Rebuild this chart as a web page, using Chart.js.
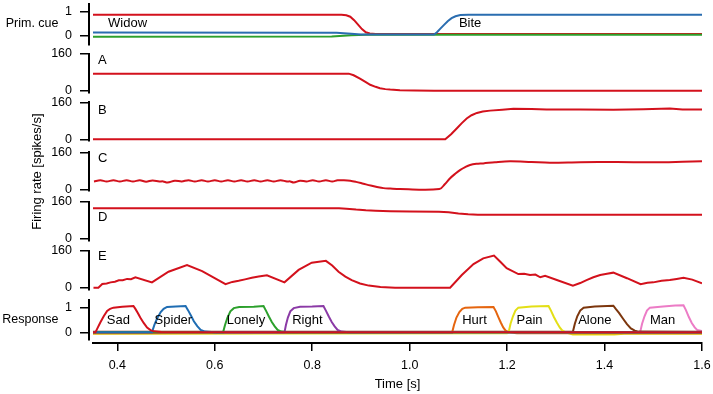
<!DOCTYPE html>
<html>
<head>
<meta charset="utf-8">
<script src="https://cdn.jsdelivr.net/npm/chart.js@4.4.1/dist/chart.umd.min.js"></script>
<style>
  body { margin: 0; background: #fff; }
  #wrap { position: relative; width: 713px; height: 394px; background: #fff; }
  #wrap canvas { position: absolute; left: 0; top: 0; }
</style>
</head>
<body>
<div id="wrap"></div>
<script>
// ---- data (time in s) ----
const xTicks = [0.4, 0.6, 0.8, 1.0, 1.2, 1.4, 1.6];
const rateTicks = [0, 160];
const unitTicks = [0, 1];

const cueWords = ['Widow', 'Bite'];
const cueWidow = [[0.35, 0.86], [0.86, 0.86], [0.87, 0.84], [0.878, 0.78], [0.886, 0.64], [0.894, 0.46], [0.902, 0.28], [0.91, 0.15], [0.918, 0.1], [0.93, 0.08], [1.6, 0.08]];
const cueBite = [[0.35, 0.14], [0.85, 0.13], [0.88, 0.09], [0.9, 0.06], [1.05, 0.06], [1.056, 0.15], [1.062, 0.28], [1.07, 0.44], [1.078, 0.6], [1.086, 0.72], [1.094, 0.8], [1.104, 0.85], [1.12, 0.86], [1.6, 0.86]];
const cueOther = [[0.35, -0.03], [0.84, -0.02], [0.88, 0.03], [0.91, 0.05], [1.6, 0.05]];

const panelLetters = ['A', 'B', 'C', 'D', 'E'];
const rateA = [[0.35, 75], [0.875, 75], [0.885, 68], [0.898, 53], [0.91, 38], [0.919, 27], [0.93, 18], [0.939, 12], [0.95, 8], [0.96, 6], [0.98, 3], [1.01, 2], [1.05, 1], [1.6, 1]];
const rateB = [[0.35, 0], [1.073, 0], [1.085, 22], [1.097, 48], [1.107, 70], [1.117, 90], [1.127, 104], [1.138, 114], [1.15, 120], [1.165, 124], [1.19, 128], [1.213, 132], [1.25, 131], [1.281, 129], [1.35, 129], [1.418, 128], [1.48, 130], [1.534, 133], [1.56, 129], [1.6, 129]];
const rateC = [[0.352, 34], [0.365, 39], [0.378, 34], [0.392, 39], [0.405, 34], [0.419, 39], [0.432, 34], [0.446, 39], [0.459, 33], [0.472, 38], [0.486, 34], [0.494, 34], [0.503, 29], [0.518, 37], [0.532, 34], [0.546, 39], [0.559, 34], [0.573, 39], [0.586, 34], [0.6, 39], [0.613, 34], [0.627, 39], [0.64, 34], [0.654, 39], [0.667, 34], [0.681, 39], [0.694, 34], [0.708, 39], [0.721, 34], [0.735, 39], [0.748, 34], [0.755, 34], [0.762, 29], [0.775, 37], [0.788, 34], [0.801, 39], [0.814, 34], [0.828, 39], [0.841, 34], [0.852, 39], [0.865, 39], [0.878, 37], [0.89, 32], [0.905, 24], [0.92, 16], [0.933, 10], [0.946, 5], [0.96, 3], [0.98, 1], [1.061, 1], [1.072, 22], [1.083, 48], [1.094, 68], [1.104, 84], [1.114, 96], [1.124, 105], [1.137, 110], [1.151, 112], [1.175, 117], [1.206, 121], [1.25, 118], [1.288, 115], [1.35, 117], [1.425, 118], [1.5, 117], [1.56, 119], [1.6, 121]];
const rateD = [[0.35, 132], [0.855, 132], [0.87, 130], [0.89, 126], [0.91, 123], [0.93, 121], [0.96, 119], [1.0, 118], [1.06, 117], [1.08, 114], [1.1, 109], [1.12, 106], [1.14, 104], [1.6, 104]];
const rateE = [[0.351, 0], [0.361, 0], [0.369, 16], [0.378, 18], [0.386, 23], [0.395, 26], [0.403, 32], [0.411, 32], [0.42, 38], [0.428, 37], [0.437, 45], [0.471, 23], [0.505, 69], [0.543, 98], [0.574, 72], [0.622, 15], [0.636, 25], [0.649, 30], [0.662, 36], [0.676, 43], [0.69, 48], [0.707, 54], [0.743, 23], [0.772, 77], [0.799, 108], [0.828, 116], [0.841, 96], [0.854, 69], [0.868, 48], [0.881, 33], [0.898, 18], [0.916, 9], [0.94, 3], [0.97, 0], [1.083, 0], [1.107, 55], [1.131, 102], [1.151, 127], [1.173, 139], [1.186, 112], [1.199, 84], [1.223, 59], [1.235, 60], [1.247, 55], [1.258, 57], [1.268, 45], [1.278, 51], [1.302, 33], [1.335, 9], [1.35, 20], [1.363, 33], [1.377, 45], [1.391, 55], [1.405, 60], [1.418, 65], [1.446, 41], [1.474, 15], [1.488, 21], [1.5, 23], [1.517, 30], [1.534, 33], [1.548, 38], [1.562, 43], [1.58, 35], [1.6, 19]];

const responseWords = ['Sad', 'Spider', 'Lonely', 'Right', 'Hurt', 'Pain', 'Alone', 'Man'];
const respSad = [[0.35, 0], [0.355, 0], [0.36, 0.2], [0.365, 0.4], [0.372, 0.65], [0.379, 0.87], [0.385, 0.95], [0.392, 1.0], [0.41, 1.04], [0.433, 1.07], [0.437, 0.95], [0.442, 0.78], [0.447, 0.6], [0.454, 0.38], [0.461, 0.19], [0.468, 0.09], [0.475, 0.04], [0.49, 0.01], [1.6, 0]];
const respSpider = [[0.35, 0], [0.471, 0], [0.476, 0.3], [0.482, 0.58], [0.489, 0.82], [0.495, 0.95], [0.502, 1.03], [0.52, 1.05], [0.54, 1.07], [0.545, 0.9], [0.551, 0.68], [0.557, 0.45], [0.564, 0.25], [0.571, 0.1], [0.58, 0.03], [0.6, 0], [1.6, 0]];
const respLonely = [[0.35, 0], [0.617, 0], [0.621, 0.3], [0.626, 0.6], [0.632, 0.85], [0.639, 0.98], [0.65, 1.03], [0.68, 1.04], [0.7, 1.07], [0.705, 0.88], [0.711, 0.64], [0.717, 0.42], [0.723, 0.24], [0.729, 0.1], [0.736, 0.03], [0.75, 0], [1.6, 0]];
const respRight = [[0.35, 0], [0.743, 0], [0.746, 0.3], [0.75, 0.6], [0.755, 0.85], [0.762, 0.98], [0.775, 1.04], [0.8, 1.05], [0.823, 1.07], [0.828, 0.88], [0.834, 0.64], [0.84, 0.42], [0.846, 0.24], [0.852, 0.1], [0.86, 0.03], [0.875, 0], [1.6, 0]];
const respHurt = [[0.35, -0.04], [1.087, -0.02], [1.091, 0.3], [1.096, 0.6], [1.102, 0.82], [1.108, 0.95], [1.114, 1.0], [1.14, 1.02], [1.172, 1.03], [1.177, 0.85], [1.182, 0.62], [1.187, 0.4], [1.192, 0.2], [1.197, 0.07], [1.203, 0], [1.22, -0.04], [1.6, -0.04]];
const respPain = [[0.35, -0.06], [1.2, -0.04], [1.203, 0], [1.207, 0.35], [1.212, 0.65], [1.217, 0.88], [1.223, 1.0], [1.25, 1.05], [1.285, 1.07], [1.29, 0.88], [1.296, 0.62], [1.302, 0.4], [1.308, 0.2], [1.313, 0.08], [1.32, 0], [1.335, -0.09], [1.42, -0.09], [1.44, -0.06], [1.6, -0.06]];
const respAlone = [[0.35, 0.02], [1.335, 0.02], [1.339, 0.35], [1.344, 0.65], [1.35, 0.88], [1.357, 1.0], [1.38, 1.05], [1.418, 1.08], [1.423, 0.95], [1.43, 0.78], [1.438, 0.55], [1.446, 0.33], [1.454, 0.16], [1.462, 0.07], [1.47, 0.03], [1.6, 0.02]];
const respMan = [[0.35, 0], [1.473, 0], [1.477, 0.35], [1.482, 0.65], [1.487, 0.88], [1.493, 1.0], [1.52, 1.05], [1.545, 1.09], [1.562, 1.1], [1.567, 0.9], [1.573, 0.62], [1.579, 0.38], [1.585, 0.2], [1.59, 0.1], [1.6, 0.05]];

// ---- layout / styles ----
const W = 713, H = 394;
const FONT = '"Liberation Sans", Arial, sans-serif';
const RED = '#d3111c';
const respColors = ['#d3111c', '#1f6db3', '#2ca02c', '#8b3aa6', '#e5650f', '#e3df16', '#7c360d', '#ec7cc6'];
const plotLeft = 89, plotRight = 702, axisStart = 93;
const tStart = 0.35, tEnd = 1.6;
const tLeft = tStart - (axisStart - plotLeft) * (tEnd - tStart) / (plotRight - axisStart);
const rateTops = [54, 102.3, 152.3, 201.7, 250.7];
const rateHeight = 38.6;
const letterY = [131, 127, 134, 92, 134];
const wordX = [0.402, 0.515, 0.664, 0.79, 1.133, 1.246, 1.38, 1.519];

const wrap = document.getElementById('wrap');

const textPlugin = {
  id: 'panelText',
  afterDatasetsDraw(chart, args, opts) {
    const ctx = chart.ctx;
    const xs = chart.scales.x, ys = chart.scales.y;
    ctx.save();
    ctx.fillStyle = '#000';
    ctx.textBaseline = 'middle';
    ctx.font = '13px ' + FONT;
    (opts.items || []).forEach(it => {
      ctx.textAlign = it.align || 'left';
      ctx.fillText(it.text, xs.getPixelForValue(it.x), ys.getPixelForValue(it.y));
    });
    if (opts.side) {
      ctx.font = '12.5px ' + FONT;
      ctx.textAlign = 'right';
      ctx.fillText(opts.side, 58.5, ys.getPixelForValue(0.5));
    }
    ctx.restore();
  }
};

function toXY(points) {
  return points.map(p => ({ x: p[0], y: p[1] }));
}

function newCanvas() {
  const canvas = document.createElement('canvas');
  canvas.width = W;
  canvas.height = H;
  wrap.appendChild(canvas);
  return canvas.getContext('2d');
}

function makePanel(p) {
  return new Chart(newCanvas(), {
    type: 'line',
    data: {
      datasets: p.series.map(s => ({
        data: toXY(s.points),
        borderColor: s.color,
        borderWidth: 2,
        tension: s.tension || 0,
        pointRadius: 0,
        fill: false
      }))
    },
    options: {
      responsive: false,
      animation: false,
      devicePixelRatio: 1,
      layout: { padding: { left: 0, right: W - plotRight, top: p.top, bottom: H - p.bottom } },
      plugins: {
        legend: { display: false },
        tooltip: { enabled: false },
        panelText: { items: p.labels || [], side: p.side }
      },
      scales: {
        x: { type: 'linear', display: false, min: tLeft, max: tEnd },
        y: {
          min: p.min,
          max: p.max,
          afterBuildTicks: sc => { sc.ticks = p.ticks.map(v => ({ value: v })); },
          afterFit: sc => { sc.width = plotLeft; sc.paddingTop = 0; sc.paddingBottom = 0; },
          ticks: { color: '#000', padding: 8, font: { family: FONT, size: 12.5 } },
          grid: { drawOnChartArea: false, tickLength: 9, color: '#000', lineWidth: 1.5 },
          border: { color: '#000', width: 2 },
          title: p.title
            ? { display: true, text: p.title, color: '#000', font: { family: FONT, size: 13 }, padding: { top: 30, bottom: 0 } }
            : { display: false }
        }
      }
    },
    plugins: [textPlugin]
  });
}

// primary cue panel
makePanel({
  top: 4.3, bottom: 44.3, min: -0.336, max: 1.283, ticks: unitTicks, side: 'Prim. cue',
  series: [
    { points: cueBite, color: '#2a6db0' },
    { points: cueOther, color: '#2ca02c' },
    { points: cueWidow, color: RED }
  ],
  labels: [
    { text: cueWords[0], x: 0.381, y: 0.5 },
    { text: cueWords[1], x: 1.101, y: 0.5 }
  ]
});

// firing rate panels A-E
const rates = [rateA, rateB, rateC, rateD, rateE];
rates.forEach((r, i) => {
  makePanel({
    top: rateTops[i], bottom: rateTops[i] + rateHeight, min: -7, max: 160, ticks: rateTicks,
    series: [{ points: r, color: RED, tension: i === 2 ? 0.35 : 0 }],
    labels: [{ text: panelLetters[i], x: 0.3603, y: letterY[i] }],
    title: i === 2 ? 'Firing rate [spikes/s]' : null
  });
});

// response panel
const responses = [respSad, respSpider, respLonely, respRight, respHurt, respPain, respAlone, respMan];
makePanel({
  top: 300, bottom: 340, min: -0.31, max: 1.31, ticks: unitTicks, side: 'Response',
  series: responses.map((r, i) => ({ points: r, color: respColors[i] })),
  labels: responseWords.map((w, i) => ({ text: w, x: wordX[i], y: 0.5, align: 'center' }))
});

// time axis
new Chart(newCanvas(), {
  type: 'line',
  data: { datasets: [] },
  options: {
    responsive: false,
    animation: false,
    devicePixelRatio: 1,
    layout: { padding: { left: axisStart, right: W - plotRight, top: 300, bottom: 0 } },
    plugins: { legend: { display: false }, tooltip: { enabled: false } },
    scales: {
      x: {
        type: 'linear',
        position: 'bottom',
        min: tStart,
        max: tEnd,
        afterBuildTicks: sc => { sc.ticks = xTicks.map(v => ({ value: v })); },
        afterFit: sc => { sc.height = H - 343; sc.paddingLeft = 0; sc.paddingRight = 0; },
        ticks: { color: '#000', padding: 7, maxRotation: 0, font: { family: FONT, size: 12.5 }, callback: v => v.toFixed(1) },
        grid: { drawOnChartArea: false, tickLength: 8, color: '#000', lineWidth: 1.5 },
        border: { color: '#000', width: 2 },
        title: { display: true, text: 'Time [s]', color: '#000', font: { family: FONT, size: 13 }, padding: { top: 0, bottom: 2 } }
      },
      y: { display: false, min: 0, max: 1 }
    }
  }
});
</script>
</body>
</html>
